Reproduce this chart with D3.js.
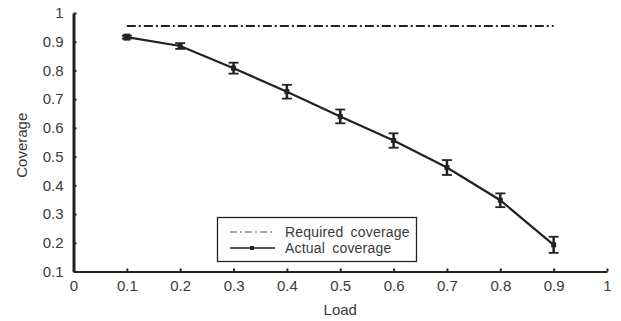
<!DOCTYPE html>
<html><head><meta charset="utf-8">
<script src="https://cdn.jsdelivr.net/npm/d3@7"></script>
<style>
html,body{margin:0;padding:0;background:#fff;}
text{font-family:"Liberation Sans",Arial,sans-serif;fill:#3a3a3a;}
</style></head>
<body><svg id="c" width="621" height="321"></svg>
<script>
const loads = [0.1,0.2,0.3,0.4,0.5,0.6,0.7,0.8,0.9];
const actual = [0.916,0.885,0.808,0.726,0.640,0.556,0.462,0.348,0.193];
const errors = [0.005,0.010,0.019,0.024,0.024,0.025,0.026,0.024,0.028];
const required = [0.955,0.955];
const requiredLoads = [0.1,0.9];
const xTicks = [0,0.1,0.2,0.3,0.4,0.5,0.6,0.7,0.8,0.9,1];
const yTicks = [0.1,0.2,0.3,0.4,0.5,0.6,0.7,0.8,0.9,1];

const svg = d3.select("#c");
const x = d3.scaleLinear().domain([0,1]).range([73.5,607]);
const y = d3.scaleLinear().domain([0.1,1]).range([271.5,13]);

// axes
const xa = svg.append("g").attr("transform",`translate(0,${y(0.1)})`)
  .call(d3.axisBottom(x).tickValues(xTicks).tickSizeInner(-3).tickSizeOuter(0).tickPadding(9).tickFormat(d=>d3.format("")(d)));
xa.select(".domain").attr("stroke","#222").attr("stroke-width",2);
xa.selectAll(".tick line").attr("stroke","#222").attr("stroke-width",2);
xa.selectAll("text").style("font-size","15px").attr("fill","#3a3a3a");

const ya = svg.append("g").attr("transform",`translate(${x(0)},0)`)
  .call(d3.axisLeft(y).tickValues(yTicks).tickSizeInner(-3).tickSizeOuter(0).tickPadding(10).tickFormat(d=>d3.format("")(d)));
ya.select(".domain").attr("stroke","#222").attr("stroke-width",3);
ya.selectAll(".tick line").attr("stroke","#222").attr("stroke-width",2);
ya.selectAll("text").style("font-size","15px").attr("fill","#3a3a3a");

// required line
svg.append("path")
  .datum(requiredLoads.map((l,i)=>[l,required[i]]))
  .attr("d", d3.line().x(d=>x(d[0])).y(d=>y(d[1])))
  .attr("fill","none").attr("stroke","#222").attr("stroke-width",2)
  .attr("stroke-dasharray","9,3,2,3");

// actual line
const pts = loads.map((l,i)=>({l, v:actual[i], e:errors[i]}));
svg.append("path").datum(pts)
  .attr("d", d3.line().x(d=>x(d.l)).y(d=>y(d.v)))
  .attr("fill","none").attr("stroke","#222").attr("stroke-width",2.2);

// error bars
const eb = svg.append("g").selectAll("g").data(pts).join("g");
eb.append("line").attr("x1",d=>x(d.l)).attr("x2",d=>x(d.l))
  .attr("y1",d=>y(d.v+d.e)).attr("y2",d=>y(d.v-d.e)).attr("stroke","#222").attr("stroke-width",2.5);
eb.append("line").attr("x1",d=>x(d.l)-5).attr("x2",d=>x(d.l)+5)
  .attr("y1",d=>y(d.v+d.e)).attr("y2",d=>y(d.v+d.e)).attr("stroke","#222").attr("stroke-width",1.8);
eb.append("line").attr("x1",d=>x(d.l)-5).attr("x2",d=>x(d.l)+5)
  .attr("y1",d=>y(d.v-d.e)).attr("y2",d=>y(d.v-d.e)).attr("stroke","#222").attr("stroke-width",1.8);
eb.append("rect").attr("x",(d,i)=>x(d.l)-(i===0?3.5:2.5)).attr("y",(d,i)=>y(d.v)-(i===0?3.5:2.5))
  .attr("width",(d,i)=>i===0?7:5).attr("height",(d,i)=>i===0?7:5).attr("fill","#222");

// axis titles
svg.append("text").attr("x",x(0.5)).attr("y",315).attr("text-anchor","middle").style("font-size","15px").text("Load");
svg.append("text").attr("transform",`translate(27,${y(0.55)+3}) rotate(-90)`).attr("text-anchor","middle").style("font-size","15px").text("Coverage");

// legend
const lg = svg.append("g");
lg.append("rect").attr("x",217.5).attr("y",217.5).attr("width",199).attr("height",44)
  .attr("fill","#fff").attr("stroke","#222").attr("stroke-width",1.3);
lg.append("line").attr("x1",230).attr("x2",275).attr("y1",232).attr("y2",232)
  .attr("stroke","#555").attr("stroke-width",1.2).attr("stroke-dasharray","7,3,2,3");
lg.append("line").attr("x1",230).attr("x2",275).attr("y1",248).attr("y2",248)
  .attr("stroke","#222").attr("stroke-width",1.3);
lg.append("rect").attr("x",250).attr("y",246).attr("width",4).attr("height",4).attr("fill","#222");
lg.append("text").attr("x",285).attr("y",237).style("font-size","14px").style("letter-spacing","0.2px").style("word-spacing","3px").text("Required coverage");
lg.append("text").attr("x",285).attr("y",253).style("font-size","14px").style("letter-spacing","0.2px").style("word-spacing","3px").text("Actual coverage");
</script></body></html>
